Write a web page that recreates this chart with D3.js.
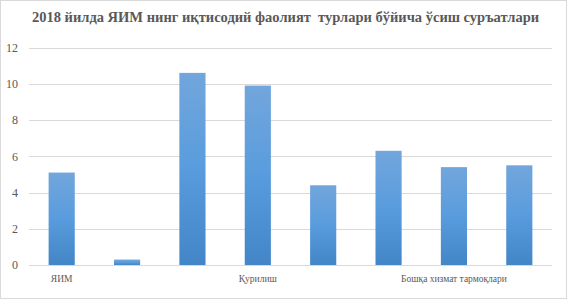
<!DOCTYPE html>
<html>
<head>
<meta charset="utf-8">
<script src="https://cdn.jsdelivr.net/npm/d3@7"></script>
<style>
  html, body { margin: 0; padding: 0; background: #fff; }
  svg { display: block; }
  svg text { font-family: "Liberation Serif", "Times New Roman", Times, serif; }
</style>
</head>
<body>
<script>
// ---------- data ----------
const title = "2018 йилда ЯИМ нинг иқтисодий фаолият  турлари бўйича ўсиш суръатлари";

const categories = [
  "ЯИМ",
  "Қишлоқ, ўрмон ва балиқ хўжалиги",
  "Саноат",
  "Қурилиш",
  "Савдо, яшаш ва овқатланиш хизматлари",
  "Ташиш ва сақлаш, ахборот ва алоқа",
  "Бошқа хизмат тармоқлари",
  "Маҳсулотларга соф солиқлар"
];
const values = [5.1, 0.3, 10.6, 9.9, 4.4, 6.3, 5.4, 5.5];
const yTicks = [0, 2, 4, 6, 8, 10, 12];
// Excel only prints every third category label
const shownLabels = ["ЯИМ", "Қурилиш", "Бошқа хизмат тармоқлари"];

// ---------- layout ----------
const width = 567;
const height = 299;
const margin = { top: 47, right: 15, bottom: 34, left: 29 };

const svg = d3.select("body")
  .append("svg")
  .attr("width", width)
  .attr("height", height);

// bar gradient
const defs = svg.append("defs");
const grad = defs.append("linearGradient")
  .attr("id", "barGrad")
  .attr("x1", 0).attr("y1", 0)
  .attr("x2", 0).attr("y2", 1);
grad.append("stop").attr("offset", "0%").attr("stop-color", "#72a6dc");
grad.append("stop").attr("offset", "50%").attr("stop-color", "#599cdd");
grad.append("stop").attr("offset", "100%").attr("stop-color", "#4386c8");

// chart border
svg.append("rect")
  .attr("x", 0.5).attr("y", 0.5)
  .attr("width", width - 1).attr("height", height - 1)
  .attr("fill", "#fff")
  .attr("stroke", "#d9d9d9");

// title
svg.append("text")
  .attr("x", width / 2 + 2)
  .attr("y", 22)
  .attr("text-anchor", "middle")
  .attr("xml:space", "preserve")
  .attr("font-weight", "bold")
  .attr("font-size", "14.5px")
  .attr("fill", "#595959")
  .text(title);

// ---------- scales ----------
const x = d3.scaleBand()
  .domain(categories)
  .range([margin.left, width - margin.right])
  .paddingInner(0.6)
  .paddingOuter(0.3);

const y = d3.scaleLinear()
  .domain([0, 12])
  .range([height - margin.bottom, margin.top + 0.5]);

// gridlines
svg.append("g")
  .selectAll("line")
  .data(yTicks)
  .join("line")
  .attr("x1", margin.left)
  .attr("x2", width - margin.right)
  .attr("y1", d => Math.round(y(d)) + 0.5)
  .attr("y2", d => Math.round(y(d)) + 0.5)
  .attr("stroke", "#d9d9d9")
  .attr("stroke-width", 1);

// y axis labels
const yAxis = svg.append("g")
  .attr("transform", `translate(${margin.left - 11},0)`)
  .call(d3.axisLeft(y).tickValues(yTicks).tickSize(0).tickPadding(0));
yAxis.attr("font-family", null);
yAxis.select(".domain").remove();
yAxis.selectAll("text")
  .attr("font-size", "12px")
  .attr("fill", "#595959");

// bars
svg.append("g")
  .selectAll("rect")
  .data(values)
  .join("rect")
  .attr("x", (d, i) => x(categories[i]))
  .attr("width", x.bandwidth())
  .attr("y", d => y(d))
  .attr("height", d => y(0) - y(d))
  .attr("fill", "url(#barGrad)");

// x axis labels
const xAxis = svg.append("g")
  .attr("transform", `translate(0,${height - margin.bottom})`)
  .call(d3.axisBottom(x)
    .tickSize(0)
    .tickPadding(10)
    .tickFormat(d => shownLabels.includes(d) ? d : ""));
xAxis.attr("font-family", null);
xAxis.select(".domain").remove();
xAxis.selectAll("text")
  .attr("font-size", "9.5px")
  .attr("fill", "#595959");
</script>
</body>
</html>
